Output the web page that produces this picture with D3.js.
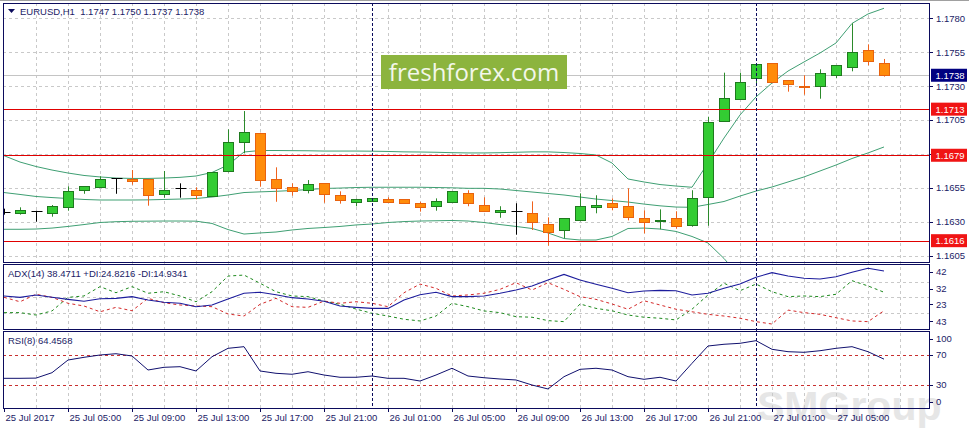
<!DOCTYPE html>
<html><head><meta charset="utf-8">
<script src="https://cdn.jsdelivr.net/npm/d3@7/dist/d3.min.js"></script>
<style>
html,body{margin:0;padding:0;background:#fff;overflow:hidden;}
svg{display:block;font-family:"Liberation Sans",Arial,sans-serif;}
</style>
</head><body><svg id="c" width="969" height="429"></svg>
<script>
// ---------------- DATA ----------------
const symbolTitle = "EURUSD,H1  1.1747 1.1750 1.1737 1.1738";
const adxTitle = "ADX(14) 38.4711 +DI:24.8216 -DI:14.9341";
const rsiTitle = "RSI(8) 64.4568";

const open = [1.16374,1.16362,1.16377,1.16362,1.16406,1.16532,1.16554,1.16620,1.16617,1.16613,1.16506,1.16546,1.16534,1.16492,1.16672,1.16890,1.16952,1.16613,1.16554,1.16532,1.16583,1.16495,1.16447,1.16450,1.16465,1.16465,1.16436,1.16414,1.16443,1.16509,1.16421,1.16374,1.16377,1.16362,1.16281,1.16237,1.16310,1.16406,1.16436,1.16414,1.16325,1.16303,1.16325,1.16272,1.16480,1.17040,1.17203,1.17358,1.17468,1.17343,1.17299,1.17299,1.17380,1.17439,1.17564,1.1747];
const high = [1.16396,1.16406,1.16381,1.16423,1.16561,1.16563,1.16635,1.16622,1.16681,1.16614,1.16674,1.16583,1.16554,1.16666,1.16981,1.17116,1.16956,1.16701,1.16583,1.16607,1.16585,1.16524,1.16470,1.16474,1.16480,1.16467,1.16447,1.16472,1.16526,1.16532,1.16480,1.16414,1.16436,1.16450,1.16332,1.16327,1.16509,1.16495,1.16472,1.16546,1.16384,1.16391,1.16377,1.16532,1.17074,1.17399,1.17399,1.17468,1.17470,1.17345,1.17380,1.17424,1.17455,1.17763,1.17608,1.1750];
const low = [1.16352,1.16352,1.16300,1.16337,1.16381,1.16506,1.16552,1.16506,1.16573,1.16418,1.16477,1.16477,1.16465,1.16490,1.16664,1.16804,1.16558,1.16447,1.16492,1.16509,1.16440,1.16433,1.16414,1.16448,1.16445,1.16436,1.16374,1.16381,1.16441,1.16414,1.16371,1.16329,1.16204,1.16239,1.16123,1.16178,1.16303,1.16362,1.16384,1.16310,1.16214,1.16244,1.16248,1.16263,1.16270,1.17038,1.17201,1.17321,1.17326,1.17259,1.17237,1.17207,1.17358,1.17409,1.17453,1.1737];
const close = [1.16374,1.16384,1.16377,1.16414,1.16524,1.16561,1.16615,1.16620,1.16602,1.16499,1.16534,1.16546,1.16499,1.16664,1.16886,1.16959,1.16607,1.16546,1.16524,1.16576,1.16502,1.16462,1.16465,1.16472,1.16447,1.16440,1.16406,1.16450,1.16524,1.16436,1.16381,1.16384,1.16377,1.16296,1.16222,1.16325,1.16414,1.16421,1.16406,1.16332,1.16296,1.16310,1.16266,1.16472,1.17033,1.17210,1.17328,1.17461,1.17328,1.17313,1.17296,1.17394,1.17453,1.17549,1.17483,1.1738];

const bbUpper = [1.16787,1.16740,1.16707,1.16681,1.16659,1.16641,1.16630,1.16622,1.16619,1.16619,1.16622,1.16627,1.16637,1.16663,1.16718,1.16814,1.16825,1.16825,1.16824,1.16823,1.16821,1.16821,1.16821,1.16820,1.16818,1.16815,1.16814,1.16812,1.16809,1.16807,1.16807,1.16809,1.16812,1.16815,1.16815,1.16810,1.16803,1.16792,1.16733,1.16615,1.16593,1.16574,1.16563,1.16554,1.16733,1.16917,1.17087,1.17220,1.17323,1.17411,1.17478,1.17544,1.17618,1.17762,1.17832,1.17874];
const bbMiddle = [1.16515,1.16501,1.16486,1.16478,1.16471,1.16464,1.16460,1.16460,1.16460,1.16461,1.16464,1.16467,1.16471,1.16482,1.16497,1.16515,1.16520,1.16524,1.16530,1.16537,1.16545,1.16548,1.16552,1.16554,1.16554,1.16554,1.16554,1.16552,1.16550,1.16546,1.16546,1.16541,1.16530,1.16519,1.16508,1.16497,1.16482,1.16467,1.16456,1.16445,1.16430,1.16417,1.16408,1.16406,1.16427,1.16449,1.16489,1.16526,1.16556,1.16593,1.16630,1.16674,1.16718,1.16766,1.16807,1.16851];
const bbLower = [1.16244,1.16244,1.16246,1.16253,1.16265,1.16279,1.16294,1.16300,1.16303,1.16304,1.16305,1.16305,1.16304,1.16287,1.16242,1.16209,1.16217,1.16224,1.16239,1.16250,1.16257,1.16265,1.16276,1.16283,1.16294,1.16301,1.16305,1.16307,1.16309,1.16305,1.16294,1.16279,1.16265,1.16250,1.16217,1.16176,1.16165,1.16165,1.16191,1.16250,1.16253,1.16246,1.16228,1.16191,1.16143,1.16029,1.15892,1.15833,1.15789,1.15774,1.15781,1.15804,1.15818,1.15781,1.15776,1.15826];

const adx = [27.9,27.1,28.5,27.1,25.9,24.8,26.3,26.5,27.5,25.5,24.2,23.6,21.6,22.6,26.1,29.5,30.1,28.6,26.9,26.1,24.8,22.0,21.2,20.6,20.6,25.5,28.6,30.1,27.5,27.5,27.9,29.5,31.4,33.8,37.3,40.6,37.3,34.8,32.4,29.8,30.8,31.2,31.0,28.5,29.5,32.4,34.9,38.9,41.6,39.6,38.3,37.9,39.2,41.8,44.2,42.6];
const plusDI = [18.1,18.1,16.7,19.1,27.1,27.9,33.4,29.8,33.4,29.5,30.4,27.9,24.5,30.4,39.6,40.2,35.4,30.4,27.9,27.5,24.9,23.0,20.2,17.7,16.1,14.2,13.2,16.1,23.6,21.6,19.1,18.1,15.7,15.4,13.4,12.8,23.2,20.6,19.2,16.7,15.4,14.8,13.8,20.1,28.5,35.4,31.0,34.9,30.4,27.5,27.9,27.5,28.9,36.9,33.8,30.1];
const minusDI = [27.1,24.5,28.9,27.1,23.6,22.0,18.6,21.2,19.2,26.5,23.9,22.6,22.0,21.6,17.3,16.1,23.0,26.5,21.6,21.2,24.9,23.6,24.5,23.6,21.6,29.8,34.9,32.4,27.9,28.5,29.5,31.8,35.7,31.4,35.7,31.8,27.5,25.9,23.2,20.1,25.1,22.6,20.1,18.6,17.1,16.1,14.8,12.8,11.4,19.6,18.1,17.1,15.1,13.2,12.8,19.2];
const rsi = [38.9,38.9,39.2,46.4,63.3,66.9,70.0,71.7,68.7,50.0,53.6,54.4,48.7,67.7,78.9,81.1,48.7,45.6,44.3,47.7,43.3,40.3,40.3,42.0,38.9,38.9,35.3,43.3,52.3,42.0,39.7,38.0,36.7,30.0,24.7,41.1,50.9,52.3,50.0,41.1,37.6,40.3,35.3,58.9,82.0,84.3,85.6,89.1,77.6,74.4,73.6,75.7,78.9,81.1,74.4,64.5];

const priceTicks = [1.1780,1.1755,1.1730,1.1705,1.1680,1.1655,1.1630,1.1605];
const levelLines = [1.1713,1.1679,1.1616];
const currentPrice = 1.1738;
const adxTickValues = [42,32,23,13];
const adxTickLabels = ["42","32","23","43"];
const adxGridValues = [36.3,27.5,17.7];
const rsiTickValues = [100,70,30,0];
const rsiLevels = [70,30];
const separatorBars = [23,47];
const xTickBars = [0,4,8,12,16,20,24,28,32,36,40,44,48,52];
const xTickLabels = ["25 Jul 2017","25 Jul 05:00","25 Jul 09:00","25 Jul 13:00","25 Jul 17:00","25 Jul 21:00","26 Jul 01:00","26 Jul 05:00","26 Jul 09:00","26 Jul 13:00","26 Jul 17:00","26 Jul 21:00","27 Jul 01:00","27 Jul 05:00"];

// ---------------- LAYOUT ----------------
const W = 969;
const svg = d3.select("#c");
const L = 3, R = 929;
const mainP = {top:3, bottom:262}, adxP = {top:264, bottom:329}, rsiP = {top:331, bottom:408};
const navy = "#0b0b5c", textC = "#1b1b66", gridC = "#c9c9c9";

const x = d3.scaleLinear().domain([0,55]).range([4,884]);
const y = d3.scaleLinear().domain([1.1780,1.1605]).range([18.3,255.6]);
const yA = d3.scaleLinear().domain([42,13]).range([272,321.3]);
const yR = d3.scaleLinear().domain([70,30]).range([355,385]);

const defs = svg.append("defs");
[["cm",mainP],["ca",adxP],["cr",rsiP]].forEach(([id,p])=>{
  defs.append("clipPath").attr("id",id).append("rect")
    .attr("x",L).attr("y",p.top).attr("width",R-L).attr("height",p.bottom-p.top);
});

// watermark bottom right
svg.append("text").attr("x",757).attr("y",420).attr("font-size",41).attr("font-weight","bold")
  .attr("fill","#e6e6e6").text("SMGroup");

// vertical grid
const gridBars = d3.range(2,57,2);
svg.append("g").selectAll("line").data(gridBars).join("line")
  .attr("x1",d=>Math.round(x(d))+0.5).attr("x2",d=>Math.round(x(d))+0.5)
  .attr("y1",mainP.top).attr("y2",rsiP.bottom)
  .attr("stroke",gridC).attr("stroke-dasharray","3,3");

// horizontal grid main
svg.append("g").selectAll("line").data(priceTicks).join("line")
  .attr("x1",L).attr("x2",R).attr("y1",d=>Math.round(y(d))+0.5).attr("y2",d=>Math.round(y(d))+0.5)
  .attr("stroke",gridC).attr("stroke-dasharray","3,3");
// adx grid
svg.append("g").selectAll("line").data(adxGridValues).join("line")
  .attr("x1",L).attr("x2",R).attr("y1",d=>Math.round(yA(d))+0.5).attr("y2",d=>Math.round(yA(d))+0.5)
  .attr("stroke",gridC).attr("stroke-dasharray","3,3");

// current price line
svg.append("line").attr("x1",L).attr("x2",R)
  .attr("y1",Math.round(y(currentPrice))+0.5).attr("y2",Math.round(y(currentPrice))+0.5)
  .attr("stroke","#c4c4c4");

// freshforex logo
svg.append("rect").attr("x",381).attr("y",55).attr("width",186).attr("height",34).attr("fill","#8cb43e");
svg.append("text").attr("x",474).attr("y",81).attr("text-anchor","middle")
  .attr("font-family","'Open Sans',sans-serif").attr("font-size",24).attr("fill","#f3f7ea").text("freshforex.com");

// bollinger bands
const gMain = svg.append("g").attr("clip-path","url(#cm)");
const lineMain = arr => d3.line().x((d,i)=>x(i)).y(d=>y(d))(arr);
[bbUpper,bbMiddle,bbLower].forEach(arr=>{
  gMain.append("path").attr("d",lineMain(arr)).attr("fill","none").attr("stroke","#3f9f73").attr("stroke-width",1);
});

// level lines (as thin filled rects for a crisp red)
svg.append("g").selectAll("rect").data(levelLines).join("rect")
  .attr("x",L+1).attr("width",R-L-1).attr("y",d=>Math.round(y(d))).attr("height",1.3)
  .attr("fill","#e00000").attr("shape-rendering","crispEdges");

// candles
const idx = d3.range(open.length);
const cg = gMain.append("g");
idx.forEach(i=>{
  const cx = Math.round(x(i))+0.5;
  const o=open[i], c=close[i], h=high[i], l=low[i];
  const up = c>o, doji = c===o;
  const wickC = doji ? "#000" : (up ? "#2b8a2b" : "#f0621c");
  cg.append("line").attr("x1",cx).attr("x2",cx).attr("y1",y(h)).attr("y2",y(l)).attr("stroke",wickC);
  if (doji) {
    cg.append("line").attr("x1",cx-5).attr("x2",cx+6).attr("y1",Math.round(y(o))+0.5).attr("y2",Math.round(y(o))+0.5).attr("stroke","#000");
  } else {
    const t = Math.round(y(Math.max(o,c))), b = Math.round(y(Math.min(o,c)));
    const hgt = Math.max(1,b-t);
    cg.append("rect").attr("x",cx-5).attr("y",t+0.5).attr("width",10).attr("height",hgt)
      .attr("fill",up ? "#33cc33" : "#ff8c0a").attr("stroke",up ? "#1e7a1e" : "#e8620e");
  }
});

// ADX panel
const gA = svg.append("g").attr("clip-path","url(#ca)");
const lineA = arr => d3.line().x((d,i)=>x(i)).y(d=>yA(d))(arr);
gA.append("path").attr("d",lineA(plusDI)).attr("fill","none").attr("stroke","#1e8a1e").attr("stroke-dasharray","3,3");
gA.append("path").attr("d",lineA(minusDI)).attr("fill","none").attr("stroke","#d42a2a").attr("stroke-dasharray","3,3");
gA.append("path").attr("d",lineA(adx)).attr("fill","none").attr("stroke","#1c1c9c").attr("stroke-width",1.1);

// RSI panel
const gR = svg.append("g").attr("clip-path","url(#cr)");
gR.selectAll("line.lv").data(rsiLevels).join("line").attr("class","lv")
  .attr("x1",L).attr("x2",R).attr("y1",d=>Math.round(yR(d))+0.5).attr("y2",d=>Math.round(yR(d))+0.5)
  .attr("stroke","#c83030").attr("stroke-dasharray","3,3");
gR.append("path").attr("d",d3.line().x((d,i)=>x(i)).y(d=>yR(d))(rsi)).attr("fill","none").attr("stroke","#10106e").attr("stroke-width",1);

// period separators
svg.append("g").selectAll("line").data(separatorBars).join("line")
  .attr("x1",d=>Math.round(x(d))+0.5).attr("x2",d=>Math.round(x(d))+0.5)
  .attr("y1",mainP.top).attr("y2",rsiP.bottom)
  .attr("stroke",navy).attr("stroke-dasharray","3,2");

// panel frames
[mainP,adxP,rsiP].forEach(p=>{
  svg.append("rect").attr("x",L+0.5).attr("y",p.top+0.5).attr("width",R-L).attr("height",p.bottom-p.top)
    .attr("fill","none").attr("stroke",navy);
});
svg.append("line").attr("x1",0).attr("x2",W).attr("y1",0.5).attr("y2",0.5).attr("stroke","#a0a0a0");

// titles
svg.append("path").attr("d","M8,9 L15,9 L11.5,13 Z").attr("fill",navy);
svg.append("text").attr("x",20).attr("y",15).attr("font-size",9.5).attr("fill",textC)
  .style("white-space","pre").text(symbolTitle);
svg.append("text").attr("x",8).attr("y",277).attr("font-size",9.5).attr("fill",textC).text(adxTitle);
svg.append("text").attr("x",8).attr("y",344).attr("font-size",9.5).attr("fill",textC).text(rsiTitle);

// price axis
const ax = svg.append("g").attr("font-size",9.5).attr("fill",textC);
priceTicks.forEach(p=>{
  const yy = y(p);
  ax.append("line").attr("x1",R).attr("x2",R+4).attr("y1",Math.round(yy)+0.5).attr("y2",Math.round(yy)+0.5).attr("stroke",navy);
  ax.append("text").attr("x",936).attr("y",yy+3.4).text(d3.format(".4f")(p));
});
// tags
function tag(p, bg){
  const yy = y(p);
  ax.append("rect").attr("x",931).attr("y",yy-6.5).attr("width",36).attr("height",13).attr("fill",bg);
  ax.append("text").attr("x",935.5).attr("y",yy+3.4).attr("fill","#fff").text(d3.format(".4f")(p));
}
levelLines.forEach(p=>tag(p,"#f01414"));
tag(currentPrice,"#000080");

// ADX axis
adxTickValues.forEach((v,k)=>{
  const yy = yA(v);
  ax.append("line").attr("x1",R).attr("x2",R+4).attr("y1",Math.round(yy)+0.5).attr("y2",Math.round(yy)+0.5).attr("stroke",navy);
  ax.append("text").attr("x",936).attr("y",yy+3.4).text(adxTickLabels[k]);
});
// RSI axis
rsiTickValues.forEach(v=>{
  const yy = Math.max(rsiP.top+8, Math.min(rsiP.bottom-6, yR(v)));
  ax.append("line").attr("x1",R).attr("x2",R+4).attr("y1",Math.round(yy)+0.5).attr("y2",Math.round(yy)+0.5).attr("stroke",navy);
  ax.append("text").attr("x",936).attr("y",yy+3.4).text(v);
});

// time axis
xTickBars.forEach((b,k)=>{
  const xx = Math.round(x(b))+0.5;
  ax.append("line").attr("x1",xx).attr("x2",xx).attr("y1",rsiP.bottom).attr("y2",rsiP.bottom+4).attr("stroke",navy);
  ax.append("text").attr("x",xx+1).attr("y",421).text(xTickLabels[k]);
});
</script>
</body></html>
